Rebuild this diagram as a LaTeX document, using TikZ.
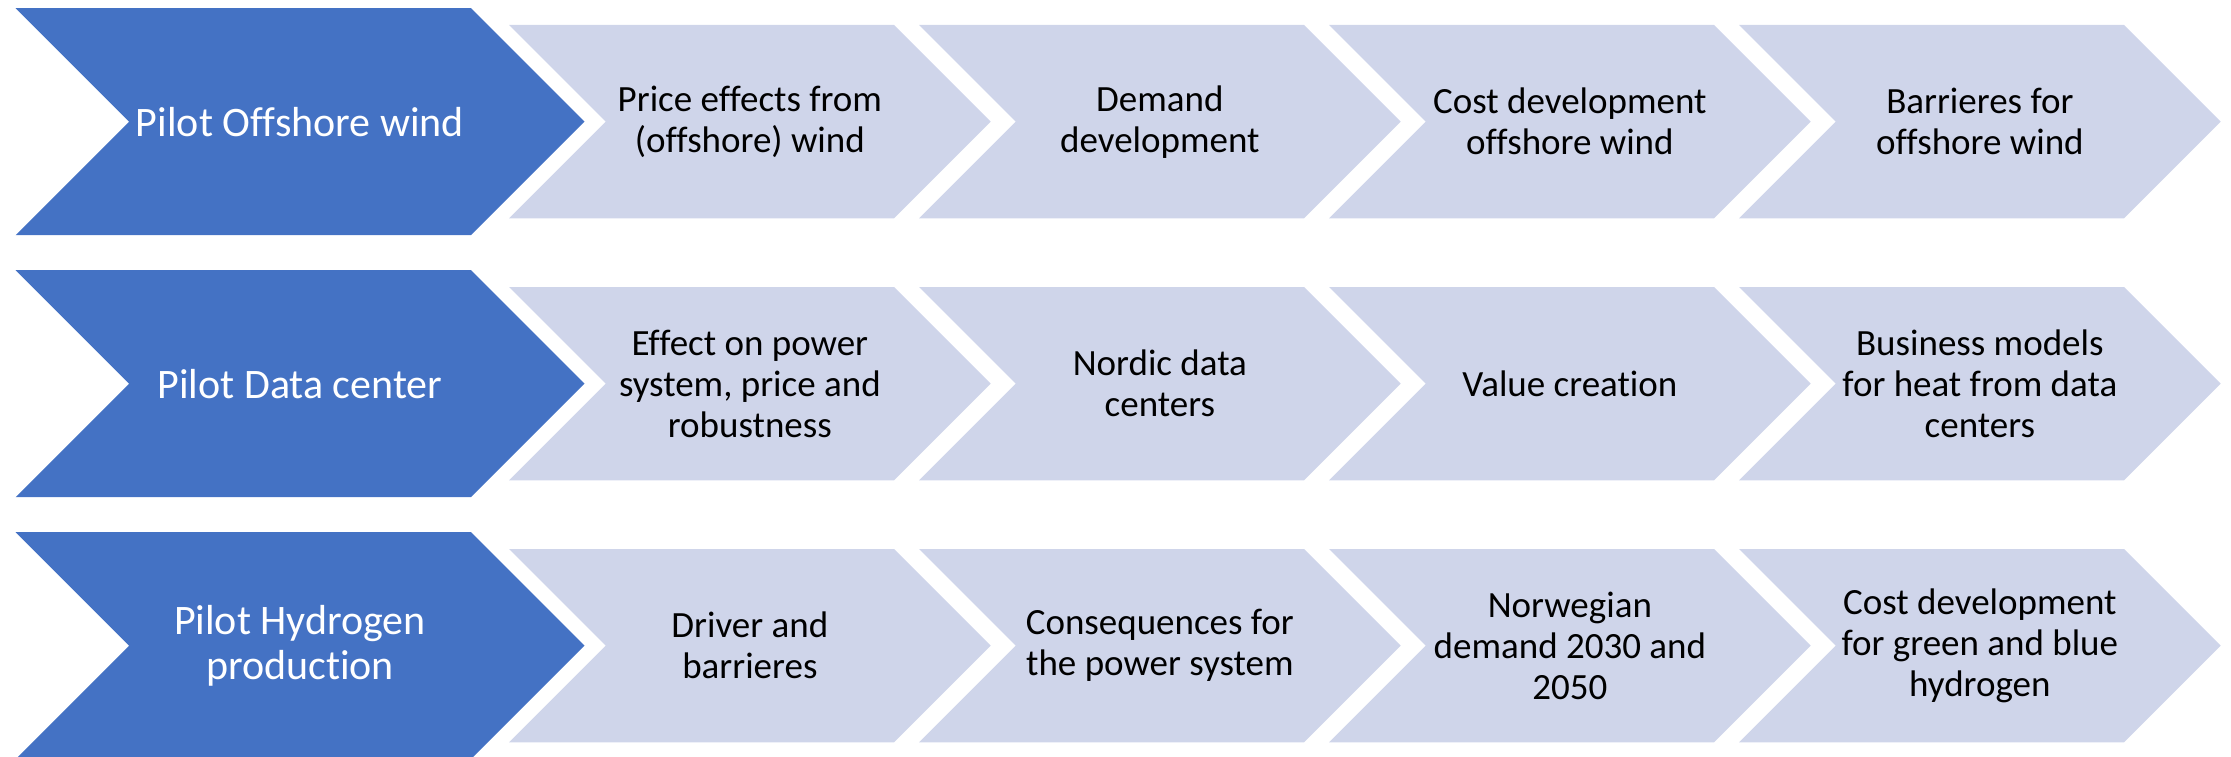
\documentclass[tikz,border=0pt]{standalone}
\usepackage{fontspec}
\setmainfont{Carlito}[Ligatures={NoCommon}]
\definecolor{pblue}{HTML}{4472C4}
\definecolor{plight}{HTML}{CFD5EA}
\newcommand\chevshape[5]{\fill[#5] (#1,#2-#4) -- ++(#3,0) -- ++(#4,#4) -- ++(-#4,#4) -- ++(-#3,0) -- ++(#4,-#4) -- cycle;}
\begin{document}
\begin{tikzpicture}[x=1pt,y=-1pt,
  pilottext/.style={text=white, font=\fontsize{42}{45}\selectfont, align=center, inner sep=0pt},
  steptext/.style={text=black, font=\fontsize{37}{41}\selectfont, align=center, inner sep=0pt}]
\useasboundingbox (0,0) rectangle (2231,757);
% row centres
\def\ra{121.7}\def\rb{383.7}\def\rc{645.7}
% chevrons
\foreach \cy in {\ra,\rb,\rc}{
  \chevshape{15.6}{\cy}{455.4}{113.5}{pblue}
  \foreach \j in {0,1,2,3}{
    \chevshape{509+410*\j}{\cy}{385}{96.7}{plight}
  }
}
% row 1
\node[pilottext] (p1) at (300,\ra) {Pilot Offshore wind};
\node[steptext] (s11) at (749.85,\ra) {Price effects from\\(offshore) wind};
\node[steptext] (s12) at (1159.85,\ra) {Demand\\development};
\node[steptext] (s13) at (1569.85,\ra) {Cost development\\offshore wind};
\node[steptext] (s14) at (1979.85,\ra) {Barrieres for\\offshore wind};
% row 2
\node[pilottext] (p2) at (300,\rb) {Pilot Data center};
\node[steptext] (s21) at (749.85,\rb) {Effect on power\\system, price and\\robustness};
\node[steptext] (s22) at (1159.85,\rb) {Nordic data\\centers};
\node[steptext] (s23) at (1569.85,\rb) {Value creation};
\node[steptext] (s24) at (1979.85,\rb) {Business models\\for heat from data\\centers};
% row 3
\node[pilottext] (p3) at (300,\rc) {Pilot Hydrogen\\production};
\node[steptext] (s31) at (749.85,\rc) {Driver and\\barrieres};
\node[steptext] (s32) at (1159.85,\rc) {Consequences for\\the power system};
\node[steptext] (s33) at (1569.85,\rc) {Norwegian\\demand 2030 and\\2050};
\node[steptext] (s34) at (1979.85,\rc) {Cost development\\for green and blue\\hydrogen};
\end{tikzpicture}
\end{document}
